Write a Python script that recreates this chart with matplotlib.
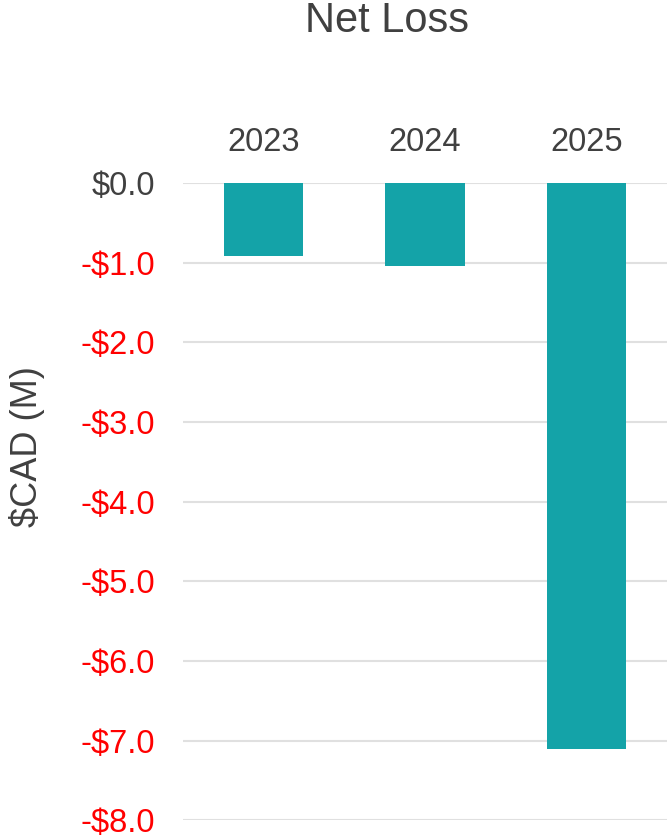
import matplotlib
matplotlib.use('Agg')
import matplotlib.pyplot as plt

years = ['2023', '2024', '2025']
net_loss = [-0.92, -1.04, -7.1]
y_ticks = [0, -1, -2, -3, -4, -5, -6, -7, -8]
y_labels = ['$0.0', '-$1.0', '-$2.0', '-$3.0', '-$4.0', '-$5.0', '-$6.0', '-$7.0', '-$8.0']

plt.rcParams['font.family'] = ['Liberation Sans', 'DejaVu Sans']
text_color = '#404040'

fig = plt.figure(figsize=(6.67, 8.38), dpi=100)
ax = fig.add_axes([0.2744, 0.0209, 0.7256, 0.7607])

ax.bar(range(len(years)), net_loss, width=0.49, color='#14A3A8', zorder=3)

ax.set_xlim(-0.5, 2.5)
ax.set_ylim(-8, 0)
ax.set_yticks(y_ticks)
ax.set_yticklabels(y_labels)
ax.set_xticks(range(len(years)))
ax.set_xticklabels(years)
ax.xaxis.tick_top()

ax.tick_params(axis='x', length=0, pad=18, labelsize=23.5, labelcolor=text_color)
ax.tick_params(axis='y', length=0, pad=20, labelsize=23.5)
for lbl, v in zip(ax.get_yticklabels(), y_ticks):
    lbl.set_color(text_color if v == 0 else '#FF0000')

ax.grid(axis='y', color='#e0e0e0', linewidth=1.5, zorder=0)
for s in ax.spines.values():
    s.set_visible(False)

ax.set_ylabel('$CAD (M)', fontsize=26, color=text_color)
ax.yaxis.set_label_coords(-0.285, 0.586)
fig.text(0.58, 0.975, 'Net Loss', ha='center', va='center', fontsize=30, color=text_color)

fig.savefig('out.png', dpi=100)
